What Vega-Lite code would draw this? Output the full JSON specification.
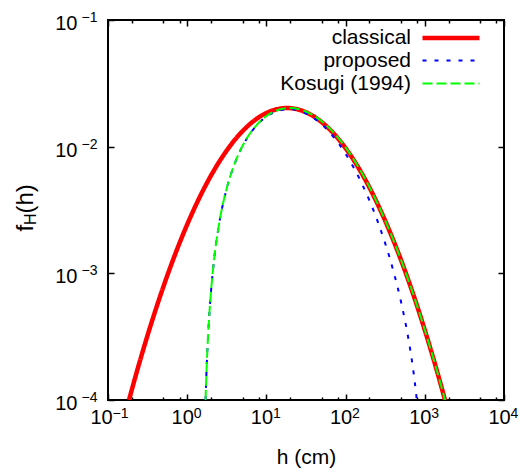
{
  "$schema": "https://vega.github.io/schema/vega-lite/v6.json",
  "width": 396,
  "height": 380,
  "autosize": "none",
  "padding": {"left": 108, "top": 20, "right": 19, "bottom": 76},
  "background": "white",
  "config": {
    "font": "Liberation Sans",
    "view": {"stroke": "black", "strokeWidth": 2},
    "axis": {"domain": false, "grid": false, "labelFont": "Liberation Sans", "titleFont": "Liberation Sans", "labelColor": "black", "titleColor": "black", "tickColor": "black", "tickWidth": 1.5, "labelFlush": false, "labelOverlap": false, "labelBound": false, "titleFontWeight": "normal"}
  },
  "datasets": {
    "curves": [
      {"series": "classical", "h": 0.1841, "f": 0.0001},
      {"series": "classical", "h": 0.2512, "f": 0.0002004},
      {"series": "classical", "h": 0.3162, "f": 0.0003246},
      {"series": "classical", "h": 0.3981, "f": 0.0005123},
      {"series": "classical", "h": 0.631, "f": 0.001177},
      {"series": "classical", "h": 1, "f": 0.002431},
      {"series": "classical", "h": 1.585, "f": 0.004513},
      {"series": "classical", "h": 2.512, "f": 0.007527},
      {"series": "classical", "h": 3.981, "f": 0.011292},
      {"series": "classical", "h": 6.31, "f": 0.015226},
      {"series": "classical", "h": 10, "f": 0.018451},
      {"series": "classical", "h": 13.49, "f": 0.019735},
      {"series": "classical", "h": 18.2, "f": 0.020184},
      {"series": "classical", "h": 25.12, "f": 0.019663},
      {"series": "classical", "h": 39.81, "f": 0.017298},
      {"series": "classical", "h": 63.1, "f": 0.013683},
      {"series": "classical", "h": 100, "f": 0.009725},
      {"series": "classical", "h": 158.5, "f": 0.006214},
      {"series": "classical", "h": 251.2, "f": 0.003568},
      {"series": "classical", "h": 398.1, "f": 0.001842},
      {"series": "classical", "h": 631, "f": 0.0008549},
      {"series": "classical", "h": 1000, "f": 0.0003565},
      {"series": "classical", "h": 1585, "f": 0.00013355},
      {"series": "classical", "h": 1799, "f": 0.0001},
      {"series": "proposed", "h": 1.704, "f": 0.0001},
      {"series": "proposed", "h": 1.771, "f": 0.0002},
      {"series": "proposed", "h": 1.836, "f": 0.000324},
      {"series": "proposed", "h": 1.918, "f": 0.0005112},
      {"series": "proposed", "h": 2.151, "f": 0.0011743},
      {"series": "proposed", "h": 2.52, "f": 0.0024245},
      {"series": "proposed", "h": 3.105, "f": 0.004497},
      {"series": "proposed", "h": 4.032, "f": 0.007494},
      {"series": "proposed", "h": 5.501, "f": 0.011224},
      {"series": "proposed", "h": 7.83, "f": 0.015094},
      {"series": "proposed", "h": 11.52, "f": 0.018218},
      {"series": "proposed", "h": 15.01, "f": 0.019409},
      {"series": "proposed", "h": 19.72, "f": 0.019747},
      {"series": "proposed", "h": 26.64, "f": 0.019081},
      {"series": "proposed", "h": 41.33, "f": 0.016512},
      {"series": "proposed", "h": 64.62, "f": 0.012714},
      {"series": "proposed", "h": 101.5, "f": 0.008646},
      {"series": "proposed", "h": 160, "f": 0.005129},
      {"series": "proposed", "h": 252.7, "f": 0.002591},
      {"series": "proposed", "h": 399.6, "f": 0.001051},
      {"series": "proposed", "h": 500, "f": 0.0005984},
      {"series": "proposed", "h": 632.5, "f": 0.0002842},
      {"series": "proposed", "h": 700, "f": 0.0001891},
      {"series": "proposed", "h": 750, "f": 0.00013614},
      {"series": "proposed", "h": 793, "f": 0.0001},
      {"series": "Kosugi (1994)", "h": 1.704, "f": 0.0001},
      {"series": "Kosugi (1994)", "h": 1.771, "f": 0.0002004},
      {"series": "Kosugi (1994)", "h": 1.836, "f": 0.0003246},
      {"series": "Kosugi (1994)", "h": 1.918, "f": 0.0005123},
      {"series": "Kosugi (1994)", "h": 2.151, "f": 0.001177},
      {"series": "Kosugi (1994)", "h": 2.52, "f": 0.002431},
      {"series": "Kosugi (1994)", "h": 3.105, "f": 0.004513},
      {"series": "Kosugi (1994)", "h": 4.032, "f": 0.007527},
      {"series": "Kosugi (1994)", "h": 5.501, "f": 0.011292},
      {"series": "Kosugi (1994)", "h": 7.83, "f": 0.015226},
      {"series": "Kosugi (1994)", "h": 11.52, "f": 0.018451},
      {"series": "Kosugi (1994)", "h": 15.01, "f": 0.019735},
      {"series": "Kosugi (1994)", "h": 19.72, "f": 0.020184},
      {"series": "Kosugi (1994)", "h": 26.64, "f": 0.019663},
      {"series": "Kosugi (1994)", "h": 41.33, "f": 0.017298},
      {"series": "Kosugi (1994)", "h": 64.62, "f": 0.013683},
      {"series": "Kosugi (1994)", "h": 101.5, "f": 0.009725},
      {"series": "Kosugi (1994)", "h": 160, "f": 0.006214},
      {"series": "Kosugi (1994)", "h": 252.7, "f": 0.003568},
      {"series": "Kosugi (1994)", "h": 399.6, "f": 0.001842},
      {"series": "Kosugi (1994)", "h": 632.5, "f": 0.0008549},
      {"series": "Kosugi (1994)", "h": 1001.5, "f": 0.0003565},
      {"series": "Kosugi (1994)", "h": 1586.4, "f": 0.00013355},
      {"series": "Kosugi (1994)", "h": 1800.5, "f": 0.0001}
    ]
  },
  "data": {"name": "curves"},
  "resolve": {"axis": {"x": "independent", "y": "independent"}},
  "layer": [
    {
      "mark": {"type": "line", "clip": true, "interpolate": "monotone", "strokeCap": "butt"},
      "encoding": {
        "x": {"field": "h", "type": "quantitative", "scale": {"type": "log", "domain": [0.1, 10000], "nice": false},
          "axis": {"orient": "bottom", "values": [0.1, 1, 10, 100, 1000, 10000], "ticks": false, "tickSize": 0, "labelExpr": "'10'", "labelFontSize": 20, "labelAlign": "center", "labelBaseline": "alphabetic", "labelPadding": 23, "labelOffset": {"condition": {"test": "datum.value < 0.5", "value": -7}, "value": -5}, "title": "h (cm)", "titleFontSize": 21, "titleX": 198, "titleY": 63, "titleAlign": "center", "titleBaseline": "alphabetic"}},
        "y": {"field": "f", "type": "quantitative", "scale": {"type": "log", "domain": [0.0001, 0.1], "nice": false},
          "axis": {"orient": "left", "values": [0.0001, 0.001, 0.01, 0.1], "ticks": false, "tickSize": 0, "labelExpr": "'10'", "labelFontSize": 20, "labelAlign": "right", "labelBaseline": "alphabetic", "labelPadding": 31, "labelOffset": 9.5, "title": "f", "titleFontSize": 24, "titleAngle": 270, "titleAlign": "left", "titleBaseline": "alphabetic", "titleX": -76, "titleY": 211}},
        "color": {"field": "series", "type": "nominal", "scale": {"domain": ["classical", "proposed", "Kosugi (1994)"], "range": ["#ff0000", "#0000ff", "#00ff00"]},
          "legend": {"title": null, "orient": "none", "legendX": 331, "legendY": 6, "symbolType": "M-3,0H3", "symbolSize": 361, "labelAlign": "right", "labelOffset": -52, "labelFontSize": 21, "labelFont": "Liberation Sans", "labelColor": "black", "rowPadding": 1, "padding": 0, "labelLimit": 300}},
        "strokeDash": {"field": "series", "type": "nominal", "scale": {"domain": ["classical", "proposed", "Kosugi (1994)"], "range": [[1, 0], [4, 8], [10, 4]]}},
        "strokeWidth": {"field": "series", "type": "nominal", "scale": {"type": "ordinal", "domain": ["classical", "proposed", "Kosugi (1994)"], "range": [4.5, 2, 2]}}
      }
    },
    {
      "mark": {"type": "point", "opacity": 0},
      "encoding": {
        "x": {"field": "h", "type": "quantitative",
          "axis": {"orient": "bottom", "values": [0.1, 1, 10, 100, 1000, 10000], "ticks": false, "tickSize": 0, "labelExpr": "datum.value < 0.5 ? '−1' : datum.value < 5 ? '0' : datum.value < 50 ? '1' : datum.value < 500 ? '2' : datum.value < 5000 ? '3' : '4'", "labelFontSize": 14, "labelAlign": "left", "labelBaseline": "alphabetic", "labelPadding": 17, "labelOffset": {"condition": {"test": "datum.value < 0.5", "value": 4}, "value": 6}, "title": null}},
        "y": {"field": "f", "type": "quantitative",
          "axis": {"orient": "left", "values": [0.0001, 0.001, 0.01, 0.1], "ticks": false, "tickSize": 0, "labelExpr": "datum.value < 0.0005 ? '−4' : datum.value < 0.005 ? '−3' : datum.value < 0.05 ? '−2' : '−1'", "labelFontSize": 14, "labelAlign": "right", "labelBaseline": "alphabetic", "labelPadding": 11, "labelOffset": 1.5, "title": "H", "titleFontSize": 16, "titleAngle": 270, "titleAlign": "left", "titleBaseline": "alphabetic", "titleX": -73, "titleY": 204.6}}
      }
    },
    {
      "mark": {"type": "point", "opacity": 0},
      "encoding": {
        "x": {"field": "h", "type": "quantitative",
          "axis": {"orient": "bottom", "values": [0.1, 1, 10, 100, 1000, 10000], "labels": false, "tickSize": -6, "title": null}},
        "y": {"field": "f", "type": "quantitative",
          "axis": {"orient": "left", "values": [0.0001, 0.001, 0.01, 0.1], "labels": false, "tickSize": -6, "title": "(h)", "titleFontSize": 24, "titleAngle": 270, "titleAlign": "left", "titleBaseline": "alphabetic", "titleX": -76, "titleY": 193}}
      }
    },
    {
      "mark": {"type": "point", "opacity": 0},
      "encoding": {
        "x": {"field": "h", "type": "quantitative",
          "axis": {"orient": "bottom", "values": [0.2, 0.5, 0.8, 2, 5, 8, 20, 50, 80, 200, 500, 800, 2000, 5000, 8000], "labels": false, "tickSize": -3, "title": null}},
        "y": {"field": "f", "type": "quantitative",
          "axis": {"orient": "right", "values": [0.0001, 0.001, 0.01, 0.1], "labels": false, "tickSize": -6, "title": null}}
      }
    },
    {
      "mark": {"type": "point", "opacity": 0},
      "encoding": {
        "x": {"field": "h", "type": "quantitative",
          "axis": {"orient": "top", "values": [0.1, 1, 10, 100, 1000, 10000], "labels": false, "tickSize": -6, "title": null}},
        "y": {"field": "f", "type": "quantitative", "axis": null}
      }
    },
    {
      "mark": {"type": "point", "opacity": 0},
      "encoding": {
        "x": {"field": "h", "type": "quantitative",
          "axis": {"orient": "top", "values": [0.2, 0.5, 0.8, 2, 5, 8, 20, 50, 80, 200, 500, 800, 2000, 5000, 8000], "labels": false, "tickSize": -3, "title": null}},
        "y": {"field": "f", "type": "quantitative", "axis": null}
      }
    }
  ]
}
